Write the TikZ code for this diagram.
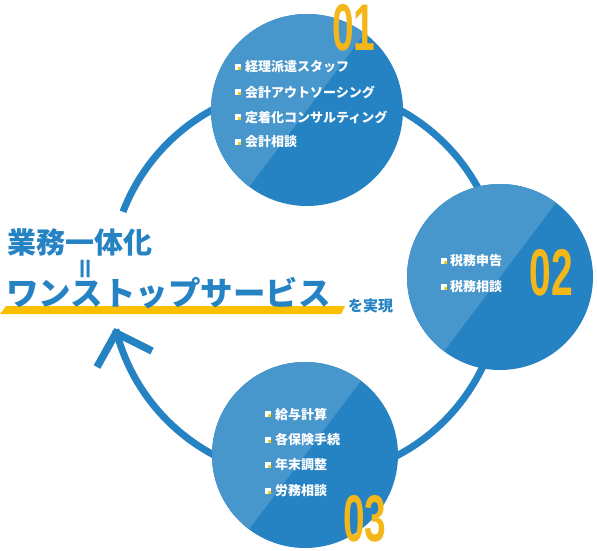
\documentclass[tikz,border=0pt]{standalone}
\usepackage{fontspec}
\newfontfamily\jp{Noto Sans CJK JP}
\newfontfamily\numf{Liberation Sans}
\definecolor{darkb}{HTML}{2683C3}
\definecolor{lightb}{HTML}{4796CC}
\definecolor{numy}{HTML}{F4B71A}
\definecolor{bary}{HTML}{FCBF00}
\definecolor{bully}{HTML}{F2CF1A}
\tikzset{
  ring/.style={draw=darkb, line width=7pt},
  disc/.style={circle, fill=darkb, inner sep=0pt},
  numtxt/.style={text=numy, inner sep=0pt, font=\numf\bfseries\fontsize{66}{66}\selectfont},
  itemtxt/.style={text=white, inner sep=0pt, anchor=west, font=\jp\bfseries\fontsize{13}{13}\selectfont},
  titletxt/.style={text=darkb, inner sep=0pt, anchor=west, font=\jp\bfseries},
}
\newcommand\lighthalf[2]{%
  \begin{scope}
    \clip (#1) circle[radius=#2];
    \fill[lightb] (#1) ++(-53:150) -- ++(-143:150) -- ++(-233:300) -- ++(-323:150) -- cycle;
  \end{scope}}
\newcommand\bul[1]{%
  \fill[white] ($(#1)+(-3,-3)$) rectangle ($(#1)+(3,3)$);
  \fill[bully] (#1) rectangle ($(#1)+(3,3)$);}
\usetikzlibrary{calc}
\begin{document}
\begin{tikzpicture}[x=1pt,y=-1pt]
\useasboundingbox (0,0) rectangle (597,550);
% ring with arrow
\coordinate (rc) at (306,282);
\draw[ring] (rc) ++(-194:196) coordinate (tip) arc[start angle=-194, end angle=-519, radius=196];
\coordinate (w1) at (97,367);
\coordinate (w2) at (152,351);
\coordinate (at) at (116,333);
\draw[ring, line width=7.5pt, line join=miter] (w1) -- (at) -- (w2);
% circles
\node[disc, minimum size=192pt] (c1) at (307,110) {};
\lighthalf{c1.center}{96}
\node[disc, minimum size=186pt] (c2) at (500,277) {};
\lighthalf{c2.center}{93}
\node[disc, minimum size=186pt] (c3) at (305,455) {};
\lighthalf{c3.center}{93}
% numbers
\node[numtxt] (n1) at (354,28) {\scalebox{0.59}[1]{01}};
\node[numtxt] (n2) at (551,273) {\scalebox{0.59}[1]{02}};
\node[numtxt] (n3) at (365,519) {\scalebox{0.59}[1]{03}};
% items circle 1
\foreach \t [count=\i] in {経理派遣スタッフ,会計アウトソーシング,定着化コンサルティング,会計相談}{
  \coordinate (b1\i) at (238,{42+25*\i});
  \bul{b1\i}
  \node[itemtxt] (t1\i) at (245,{42+25*\i}) {\t};
}
% items circle 2
\foreach \t [count=\i] in {税務申告,税務相談}{
  \coordinate (b2\i) at (443.5,{235+26*\i});
  \bul{b2\i}
  \node[itemtxt] (t2\i) at (450,{235+26*\i}) {\t};
}
% items circle 3
\foreach \t [count=\i] in {給与計算,各保険手続,年末調整,労務相談}{
  \coordinate (b3\i) at (268,{388.5+25.5*\i});
  \bul{b3\i}
  \node[itemtxt] (t3\i) at (275,{388.5+25.5*\i}) {\t};
}
% title
\fill[bary] (0,314) -- (6,306) -- (345,306) -- (341,314) -- cycle;
\node[titletxt, font=\jp\bfseries\fontsize{29}{29}\selectfont] (h1) at (7,242) {業務一体化};
\node[titletxt, rotate=90, anchor=center, font=\jp\bfseries\fontsize{25}{25}\selectfont] (eq) at (88,269) {＝};
\node[titletxt, font=\jp\bfseries\fontsize{32.5}{32.5}\selectfont] (h2) at (6,293) {ワンストップサービス};
\node[titletxt, font=\jp\bfseries\fontsize{15}{15}\selectfont] (h3) at (348,306) {を実現};
\end{tikzpicture}
\end{document}
